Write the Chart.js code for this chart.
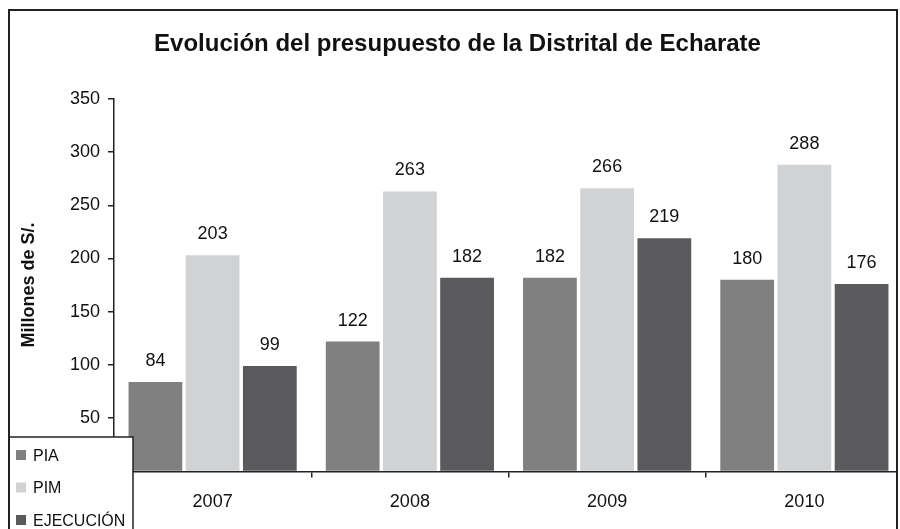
<!DOCTYPE html>
<html>
<head>
<meta charset="utf-8">
<script src="https://cdn.jsdelivr.net/npm/chart.js@4"></script>
<style>
  html, body { margin: 0; padding: 0; background: #fff; overflow: hidden; }
  #wrap { position: absolute; left: 0; top: 0; width: 898px; height: 529px; overflow: hidden; }
  #box { position: absolute; width: 920px; height: 529px; left: 0; top: 0; }
  #marco { position: absolute; left: 8px; top: 9px; width: 886px; height: 600px; border: 2px solid #222; pointer-events: none; }
</style>
</head>
<body>
<div id="wrap">
  <div id="box"><canvas id="presupuestoChart" width="920" height="529"></canvas></div>
  <div id="marco"></div>
</div>
<script>
// Datos del grafico (millones de S/.)
const anios = ['2007', '2008', '2009', '2010'];
const pia = [84, 122, 182, 180];
const pim = [203, 263, 266, 288];
const ejecucion = [99, 182, 219, 176];
const nombresSeries = ['PIA', 'PIM', 'EJECUCIÓN'];
const coloresSeries = ['#808080', '#d1d2d4', '#5a5a5c'];

const fuente = 'Arial, "Liberation Sans", sans-serif';

// etiquetas de valor encima de cada barra
const etiquetasValor = {
    id: 'etiquetasValor',
    afterDatasetsDraw(chart) {
        const ctx = chart.ctx;
        ctx.save();
        ctx.font = '18px ' + fuente;
        ctx.fillStyle = '#111';
        ctx.textAlign = 'center';
        ctx.textBaseline = 'alphabetic';
        chart.data.datasets.forEach((ds, i) => {
            chart.getDatasetMeta(i).data.forEach((bar, j) => {
                ctx.fillText(ds.data[j], bar.x, bar.y - 16);
            });
        });
        ctx.restore();
    }
};

// leyenda en caja, abajo a la izquierda (encima del eje)
const leyendaCaja = {
    id: 'leyendaCaja',
    afterDraw(chart) {
        const ctx = chart.ctx;
        ctx.save();
        ctx.fillStyle = '#fff';
        ctx.fillRect(9, 437, 124, 100);
        ctx.strokeStyle = '#222';
        ctx.lineWidth = 1.5;
        ctx.strokeRect(9, 437, 124, 100);
        ctx.font = '17px ' + fuente;
        ctx.textBaseline = 'middle';
        ctx.textAlign = 'left';
        chart.data.datasets.forEach((ds, i) => {
            const y = 455 + i * 32.5;
            ctx.fillStyle = ds.backgroundColor;
            ctx.fillRect(16, y - 5, 10, 10);
            ctx.fillStyle = '#111';
            ctx.save();
            ctx.translate(33, y + 1);
            ctx.scale(0.94, 1);
            ctx.fillText(ds.label, 0, 0);
            ctx.restore();
        });
        ctx.restore();
    }
};

const ctx = document.getElementById('presupuestoChart').getContext('2d');

const presupuestoChart = new Chart(ctx, {
    type: 'bar',
    data: {
        labels: anios,
        datasets: [pia, pim, ejecucion].map((valores, i) => ({
            label: nombresSeries[i],
            data: valores,
            backgroundColor: coloresSeries[i],
            borderWidth: 0,
            categoryPercentage: 0.87,
            barPercentage: 0.94
        }))
    },
    options: {
        responsive: false,
        animation: false,
        layout: { padding: { left: 12, right: 17, top: 0, bottom: 2 } },
        plugins: {
            legend: { display: false },
            tooltip: { enabled: false },
            title: {
                display: true,
                text: 'Evolución del presupuesto de la Distrital de Echarate',
                color: '#111',
                font: { family: fuente, size: 24, weight: 'bold' },
                padding: { top: 30, bottom: 40 }
            }
        },
        scales: {
            x: {
                grid: { display: true, offset: true, drawOnChartArea: false, tickLength: 6, color: '#222', lineWidth: 1.5 },
                border: { color: '#222', width: 1.5 },
                ticks: { color: '#111', font: { family: fuente, size: 18 }, padding: 14 }
            },
            y: {
                min: 0,
                max: 350,
                afterFit: (escala) => { escala.width = 102; },
                grid: { drawOnChartArea: false, tickLength: 6, color: '#222', lineWidth: 1.5 },
                border: { color: '#222', width: 1.5 },
                ticks: { stepSize: 50, color: '#111', font: { family: fuente, size: 18 }, padding: 8 },
                title: {
                    display: true,
                    text: 'Millones de S/.',
                    color: '#111',
                    font: { family: fuente, size: 18, weight: 'bold' },
                    padding: { top: 6, bottom: 0 }
                }
            }
        }
    },
    plugins: [etiquetasValor, leyendaCaja]
});
</script>
</body>
</html>
